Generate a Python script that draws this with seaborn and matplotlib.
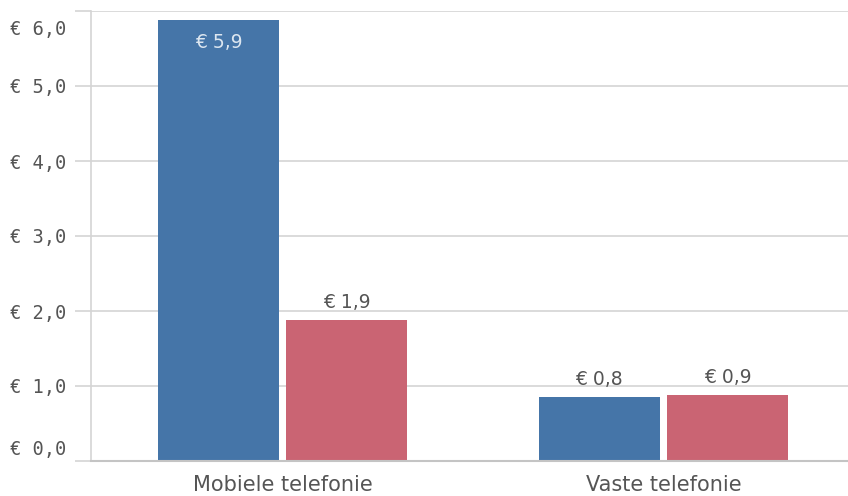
import matplotlib
matplotlib.use("Agg")
import matplotlib.pyplot as plt
import matplotlib.transforms as mtransforms
from matplotlib.ticker import FuncFormatter, FixedLocator
import seaborn as sns
import pandas as pd

categories = ["Mobiele telefonie", "Vaste telefonie"]
series = ["Reeks 1", "Reeks 2"]
values_series1 = [5.88, 0.85]
values_series2 = [1.88, 0.88]
yticks = [0, 1, 2, 3, 4, 5, 6]

df = pd.DataFrame({
    "categorie": categories * 2,
    "reeks": [series[0]] * 2 + [series[1]] * 2,
    "waarde": values_series1 + values_series2,
})

sns.set_theme(style="white")
plt.rcParams["font.family"] = ["DejaVu Sans"]

def euro(v):
    return ("€ %.1f" % v).replace(".", ",")

W, H = 848, 496
fig = plt.figure(figsize=(W / 100, H / 100), dpi=100)
left, right, top, bottom = 91, 850, 11, 461
ax = fig.add_axes([left / W, 1 - bottom / H, (right - left) / W, (bottom - top) / H])

palette = {series[0]: "#4575A8", series[1]: "#CA6473"}
sns.barplot(data=df, x="categorie", y="waarde", hue="reeks", order=categories,
            hue_order=series, palette=palette, width=0.674, gap=0.055,
            saturation=1, linewidth=0, ax=ax, legend=False)

ax.set_xlim(-0.503, 1.49)
ax.set_ylim(0, 6.0)
ax.yaxis.set_major_locator(FixedLocator(yticks))
ax.yaxis.set_major_formatter(FuncFormatter(lambda v, p: euro(v)))
ax.set_xlabel("")
ax.set_ylabel("")

gridc = "#d4d4d4"
ax.grid(axis="y", color=gridc, linewidth=1.2)
ax.set_axisbelow(True)
for s in ["top", "right"]:
    ax.spines[s].set_visible(False)
ax.spines["left"].set_color(gridc)
ax.spines["left"].set_linewidth(1.2)
ax.spines["bottom"].set_color("#c4c4c4")
ax.spines["bottom"].set_linewidth(1.5)

ax.tick_params(axis="y", length=11.5, width=1.2, color=gridc, pad=6,
               labelsize=13.5, labelcolor="#555555", left=True)
ax.tick_params(axis="x", length=0, pad=10, labelsize=15, labelcolor="#555555")
for lab in ax.get_yticklabels():
    lab.set_family(["DejaVu Sans Mono", "DejaVu Sans"])

# shift outermost tick labels inward like the reference
fig.canvas.draw()
labs = ax.get_yticklabels()
labs[0].set_transform(labs[0].get_transform() + mtransforms.ScaledTranslation(0, 13 / 100, fig.dpi_scale_trans))
labs[-1].set_transform(labs[-1].get_transform() + mtransforms.ScaledTranslation(0, -16 / 100, fig.dpi_scale_trans))

# value labels
for container in ax.containers:
    for bar in container:
        h = bar.get_height()
        txt = euro(h)
        x = bar.get_x() + bar.get_width() / 2
        if h > 5:
            ax.annotate(txt, (x, h), xytext=(0, -9), textcoords="offset points",
                        ha="center", va="top", fontsize=13.5, color="#dce6f0")
        else:
            ax.annotate(txt, (x, h), xytext=(0, 6), textcoords="offset points",
                        ha="center", va="bottom", fontsize=13.5, color="#555555")

fig.savefig("out.png", dpi=100)
